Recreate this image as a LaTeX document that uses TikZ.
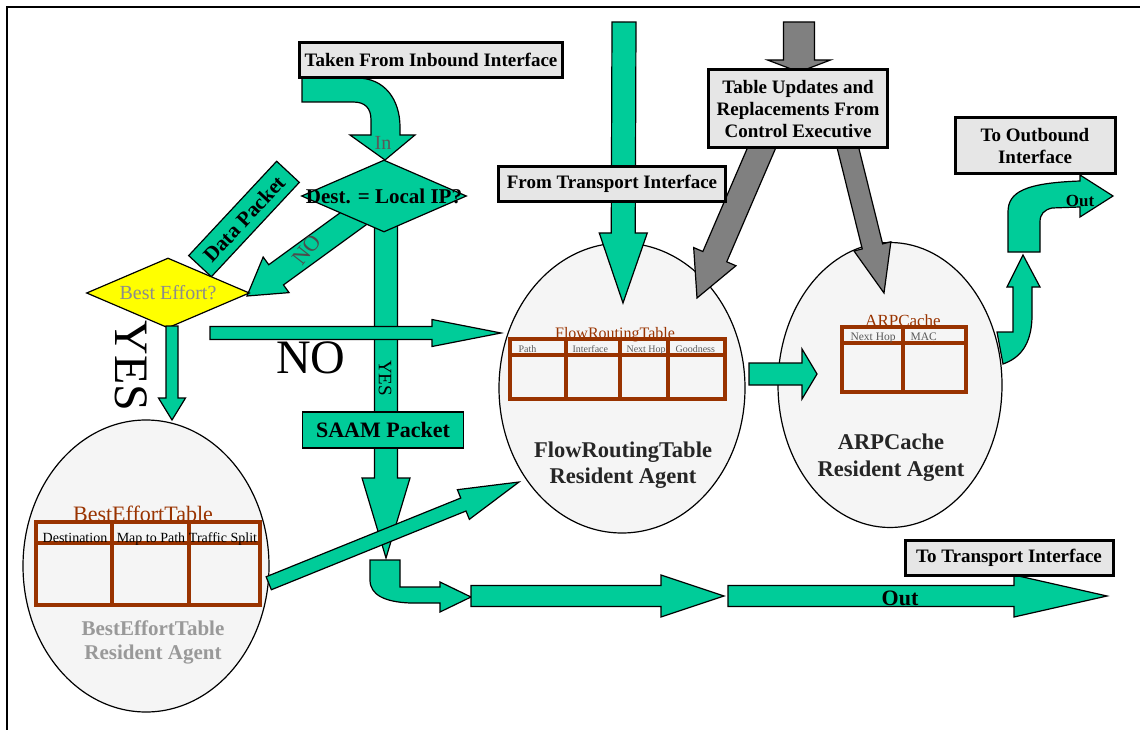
\documentclass[tikz,border=0pt]{standalone}
\usepackage{fontspec}
\setmainfont{Liberation Serif}
\usetikzlibrary{shapes.geometric,calc}

\definecolor{flowgreen}{HTML}{00CC99}
\definecolor{ctrlgray}{HTML}{808080}
\definecolor{boxgray}{HTML}{E6E6E6}
\definecolor{agentfill}{HTML}{F5F5F5}
\definecolor{tablebrown}{HTML}{993300}
\definecolor{effortyellow}{HTML}{FFFF00}

% fat block arrow: style, tail, tip, shaft width, head width, head length
\newcommand{\fatarrow}[6]{%
  \path let \p1=($(#3)-(#2)$) in
    \pgfextra{\pgfmathsetmacro{\fatang}{atan2(\y1,\x1)}%
      \pgfmathsetmacro{\fatlen}{veclen(\x1,\y1)}%
      \global\let\fatang\fatang\global\let\fatlen\fatlen};
  \draw[#1,shift={(#2)},rotate=\fatang]
    (0,-#4/2) -- ({\fatlen-#6},-#4/2) -- ({\fatlen-#6},-#5/2) -- (\fatlen,0)
    -- ({\fatlen-#6},#5/2) -- ({\fatlen-#6},#4/2) -- (0,#4/2) -- cycle;}

\begin{document}
\begin{tikzpicture}[x=1pt,y=-1pt,
    greenarrow/.style={draw=black,line width=1.2,fill=flowgreen},
    grayarrow/.style={draw=black,line width=1.2,fill=ctrlgray},
    infobox/.style={draw=black,line width=3,fill=boxgray,align=center,inner sep=0,
      font=\bfseries\fontsize{19}{22}\selectfont},
    agent/.style={ellipse,draw=black,line width=1.2,fill=agentfill},
    tbl/.style={draw=tablebrown,line width=3.5},
    tbltitle/.style={text=tablebrown,anchor=base},
    colhead/.style={anchor=base west,text=black!65,font=\fontsize{10}{10}\selectfont},
  ]
  \useasboundingbox (0,0) rectangle (1140,730);
  % Frame.
  \draw[line width=2] (7,730) -- (7,7) -- (1140,7);

  % Resident agents.
  \node[agent,minimum width=246,minimum height=292] (be) at (146,566) {};
  \node[agent,minimum width=246,minimum height=290] (fr) at (622,388) {};
  \node[agent,minimum width=224,minimum height=285] (arp) at (890,385) {};

  % Tables.
  \node[tbltitle,font=\fontsize{22}{22}\selectfont] (betitle) at (143,521) {BestEffortTable};
  \draw[tbl,line width=4] (36,522) rectangle (260,605) (36,543) -- (260,543)
    (112,522) -- (112,605) (189,522) -- (189,605);
  \node[anchor=base,font=\fontsize{14}{14}\selectfont] (bedest) at (75,542) {Destination};
  \node[anchor=base,font=\fontsize{14}{14}\selectfont] (bemap) at (151,542) {Map to Path};
  \node[anchor=base,font=\fontsize{14}{14}\selectfont] (besplit) at (223,542) {Traffic Split};

  \node[tbltitle,font=\fontsize{16}{16}\selectfont] (frtitle) at (615,338) {FlowRoutingTable};
  \draw[tbl] (510,339) rectangle (725,399) (510,355) -- (725,355)
    (566,339) -- (566,399) (620,339) -- (620,399) (668,339) -- (668,399);
  \node[colhead] (frpath) at (515,352) {Path};
  \node[colhead] (frif) at (569,352) {Interface};
  \node[colhead] (frhop) at (623,352) {Next Hop};
  \node[colhead] (frgood) at (672,352) {Goodness};

  \node[tbltitle,font=\fontsize{17}{17}\selectfont] (arptitle) at (903,326) {ARPCache};
  \draw[tbl] (842,327) rectangle (966,392) (842,343) -- (966,343) (903,327) -- (903,392);
  \node[colhead,font=\fontsize{11.5}{11.5}\selectfont] (arphop) at (847,340) {Next Hop};
  \node[colhead,font=\fontsize{11.5}{11.5}\selectfont] (arpmac) at (907,340) {MAC};

  \node[font=\bfseries\fontsize{21}{24}\selectfont,text=black!40,align=center] (belabel)
    at (153,642) {BestEffortTable\\Resident Agent};
  \node[font=\bfseries\fontsize{22.5}{26}\selectfont,text=black!85,align=center] (frlabel)
    at (623,465) {FlowRoutingTable\\Resident Agent};
  \node[font=\bfseries\fontsize{22.5}{27}\selectfont,text=black!85,align=center] (arplabel)
    at (891,458) {ARPCache\\Resident Agent};

  % Arrows from the top.
  \coordinate (trtop) at (624,22);
  \coordinate (frtip) at (623,303);
  \coordinate (ctrltop) at (799,22);
  \coordinate (ctrltip) at (799,72);
  \coordinate (ctrlleft) at (765,140);
  \coordinate (frctrl) at (697,298);
  \coordinate (ctrlright) at (846,140);
  \coordinate (arpctrl) at (884,293);
  \fatarrow{greenarrow}{trtop}{frtip}{24}{48}{70}
  \fatarrow{grayarrow}{ctrltop}{ctrltip}{31}{63}{12}
  \fatarrow{grayarrow}{ctrlleft}{frctrl}{26}{46}{45}
  \fatarrow{grayarrow}{ctrlright}{arpctrl}{21}{38}{48}

  % In arrow.
  \draw[greenarrow] (302,78) -- (357,78) .. controls (385,78) and (400,100) .. (400,127)
    -- (400,135) -- (415,135) -- (385,160) -- (350,135) -- (371,135) -- (371,120)
    .. controls (371,108) and (365,102) .. (353,102) -- (302,102) -- cycle;

  % Decisions.
  \coordinate (desttail) at (386,225);
  \coordinate (saamtip) at (386,558);
  \coordinate (notail) at (368,208);
  \coordinate (effortnotip) at (247,296);
  \fatarrow{greenarrow}{desttail}{saamtip}{23}{48}{80}
  \fatarrow{greenarrow}{notail}{effortnotip}{25}{44}{36}
  \node[diamond,draw,line width=1.2,fill=flowgreen,minimum width=165,minimum height=72,inner sep=0,
    label={[font=\bfseries\fontsize{21}{21}\selectfont]center:{Dest. = Local IP?}}] (dest) at (384,196) {};
  \node[draw,line width=1.2,fill=flowgreen,rotate=47,minimum width=129,minimum height=31,inner sep=0,
    font=\bfseries\fontsize{21}{21}\selectfont] (datapkt) at (244,219) {Data Packet};
  \node[diamond,draw,line width=1.2,fill=effortyellow,minimum width=163,minimum height=70,inner sep=0,
    label={[font=\fontsize{20}{20}\selectfont,text=black!45]center:Best Effort?}] (effort) at (168,293) {};

  \coordinate (effnotail) at (210,333);
  \coordinate (frnotip) at (501,333);
  \coordinate (effyestail) at (172,326);
  \coordinate (beyestip) at (172,420);
  \fatarrow{greenarrow}{effnotail}{frnotip}{13}{27}{69}
  \fatarrow{greenarrow}{effyestail}{beyestip}{12}{27}{22}

  \node[draw,line width=1.5,fill=flowgreen,minimum width=161,minimum height=36,inner sep=0,
    font=\bfseries\fontsize{22}{22}\selectfont] (saam) at (383,430) {SAAM Packet};

  % Towards the routing table and out.
  \coordinate (diagtip) at (519,482);
  \fatarrow{greenarrow}{be.-8}{diagtip}{14}{32}{60}
  \draw[greenarrow] (370,560) -- (400,560) -- (400,587) -- (440,587) -- (440,582) -- (471,597)
    -- (440,612) -- (440,603) -- (410,603) .. controls (385,602) and (370,595) .. (370,580) -- cycle;
  \coordinate (outatail) at (471,596);
  \coordinate (outatip) at (724,596);
  \coordinate (outbtail) at (728,596);
  \coordinate (outbtip) at (1107,596);
  \fatarrow{greenarrow}{outatail}{outatip}{21}{42}{63}
  \fatarrow{greenarrow}{outbtail}{outbtip}{21}{42}{93}

  \coordinate (frarptail) at (749,374);
  \coordinate (frarptip) at (817,374);
  \fatarrow{greenarrow}{frarptail}{frarptip}{22}{50}{15}
  \draw[greenarrow] (1013,287) -- (1007,287) -- (1023,255) -- (1040,287) -- (1032,287) -- (1032,318)
    .. controls (1031,345) and (1020,358) .. (1003,364) -- (997,332) -- (1013,332) -- cycle;
  \draw[greenarrow] (1008,252) -- (1008,212) .. controls (1008,192) and (1025,183) .. (1080,181)
    -- (1080,175) -- (1113,196) -- (1080,217) -- (1080,207) -- (1052,208)
    .. controls (1044,210) and (1040,214) .. (1040,222) -- (1040,252) -- cycle;

  % Interfaces.
  \node[infobox,minimum width=263,minimum height=35] (inbound) at (431,60) {Taken From Inbound Interface};
  \node[infobox,minimum width=227,minimum height=35] (transin) at (612,184) {From Transport Interface};
  \node[infobox,minimum width=179,minimum height=78] (updates) at (798,109)
    {Table Updates and\\Replacements From\\Control Executive};
  \node[infobox,minimum width=160,minimum height=56] (outbound) at (1035,146) {To Outbound\\Interface};
  \node[infobox,minimum width=208,minimum height=35] (transout) at (1009,558) {To Transport Interface};

  % Labels.
  \node[font=\fontsize{20}{20}\selectfont,text=black!65] (inlbl) at (383,143) {In};
  \node[font=\fontsize{22}{22}\selectfont,text=black!70,rotate=52] (nolbl) at (307,250) {NO};
  \node[font=\fontsize{48}{48}\selectfont] (nobig) at (311,358) {NO};
  \node[font=\fontsize{48}{48}\selectfont,rotate=-90] (yesbig) at (131,366) {YES};
  \node[font=\fontsize{19}{19}\selectfont,rotate=-90] (yessmall) at (385,378) {YES};
  \node[font=\bfseries\fontsize{22}{22}\selectfont] (outlow) at (900,598) {Out};
  \node[font=\bfseries\fontsize{17}{17}\selectfont] (outhigh) at (1080,201) {Out};
\end{tikzpicture}
\end{document}
